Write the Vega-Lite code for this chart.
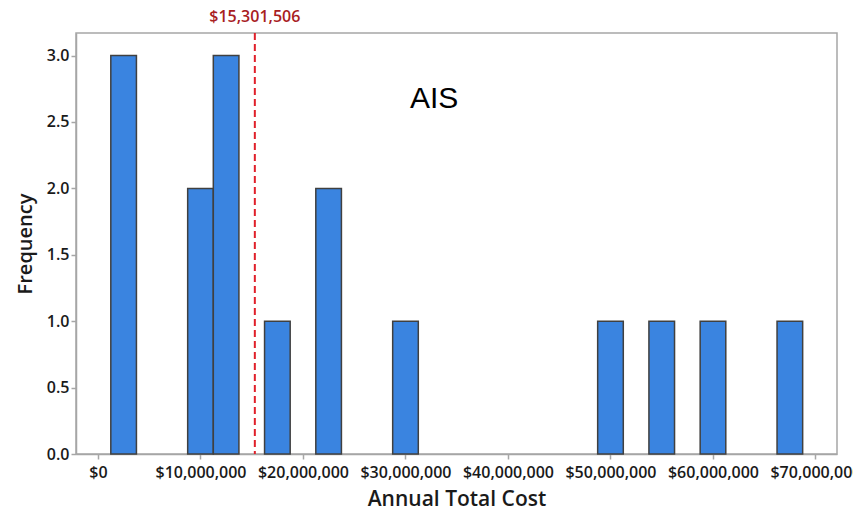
{
  "$schema": "https://vega.github.io/schema/vega-lite/v6.json",
  "width": 761,
  "height": 421,
  "autosize": {"type": "none"},
  "padding": {"left": 76, "top": 33, "right": 16, "bottom": 59},
  "background": "white",
  "config": {
    "view": {"stroke": "#a6a6a6", "strokeWidth": 1.5},
    "font": "Open Sans"
  },
  "datasets": {
    "bins": [
      {"start": 1250000, "end": 3750000, "count": 3},
      {"start": 8750000, "end": 11250000, "count": 2},
      {"start": 11250000, "end": 13750000, "count": 3},
      {"start": 16250000, "end": 18750000, "count": 1},
      {"start": 21250000, "end": 23750000, "count": 2},
      {"start": 28750000, "end": 31250000, "count": 1},
      {"start": 48750000, "end": 51250000, "count": 1},
      {"start": 53750000, "end": 56250000, "count": 1},
      {"start": 58750000, "end": 61250000, "count": 1},
      {"start": 66250000, "end": 68750000, "count": 1}
    ],
    "mean": [{"value": 15301506, "label": "$15,301,506"}],
    "note": [{"x": 32800000, "y": 2.67, "text": "AIS"}]
  },
  "layer": [
    {
      "data": {"name": "bins"},
      "mark": {"type": "bar", "fill": "#3a84e0", "stroke": "#404040", "strokeWidth": 1.5},
      "encoding": {
        "x": {
          "field": "start", "type": "quantitative",
          "scale": {"domain": [-2146000, 72100000], "nice": false, "zero": false},
          "axis": {
            "title": "Annual Total Cost",
            "values": [0, 10000000, 20000000, 30000000, 40000000, 50000000, 60000000, 70000000],
            "format": "$,.0f",
            "grid": false,
            "domainColor": "#a6a6a6",
            "domainWidth": 1.5,
            "tickColor": "#a6a6a6",
            "tickWidth": 1.5,
            "tickSize": 5,
            "labelFontSize": 16,
            "labelFontWeight": 600,
            "labelColor": "#1a1a1a",
            "labelPadding": 5,
            "labelOverlap": false,
            "labelFlush": false,
            "titleFontSize": 21,
            "titleFontWeight": 600,
            "titleColor": "#1a1a1a",
            "titlePadding": 8
          }
        },
        "x2": {"field": "end"},
        "y": {
          "field": "count", "type": "quantitative",
          "scale": {"domain": [0, 3.17], "nice": false},
          "axis": {
            "title": "Frequency",
            "values": [0, 0.5, 1, 1.5, 2, 2.5, 3],
            "format": ".1f",
            "grid": false,
            "domainColor": "#a6a6a6",
            "domainWidth": 1.5,
            "tickColor": "#a6a6a6",
            "tickWidth": 1.5,
            "tickSize": 5,
            "labelFontSize": 16,
            "labelFontWeight": 600,
            "labelColor": "#1a1a1a",
            "labelPadding": 2,
            "titleFontSize": 20,
            "titleFontWeight": 600,
            "titleColor": "#1a1a1a",
            "titlePadding": 11
          }
        },
        "y2": {"datum": 0}
      }
    },
    {
      "data": {"name": "mean"},
      "mark": {"type": "rule", "color": "#e0202a", "strokeWidth": 2, "strokeDash": [7, 4]},
      "encoding": {
        "x": {"field": "value", "type": "quantitative"}
      }
    },
    {
      "data": {"name": "mean"},
      "mark": {"type": "text", "color": "#a8201f", "fontSize": 16, "fontWeight": 600, "baseline": "bottom", "dy": -8, "align": "center", "y": 0},
      "encoding": {
        "x": {"field": "value", "type": "quantitative"},
        "text": {"field": "label"}
      }
    },
    {
      "data": {"name": "note"},
      "mark": {"type": "text", "font": "Liberation Sans", "fontSize": 30, "color": "#000000", "align": "center", "baseline": "middle"},
      "encoding": {
        "x": {"field": "x", "type": "quantitative"},
        "y": {"field": "y", "type": "quantitative"},
        "text": {"field": "text"}
      }
    }
  ]
}
